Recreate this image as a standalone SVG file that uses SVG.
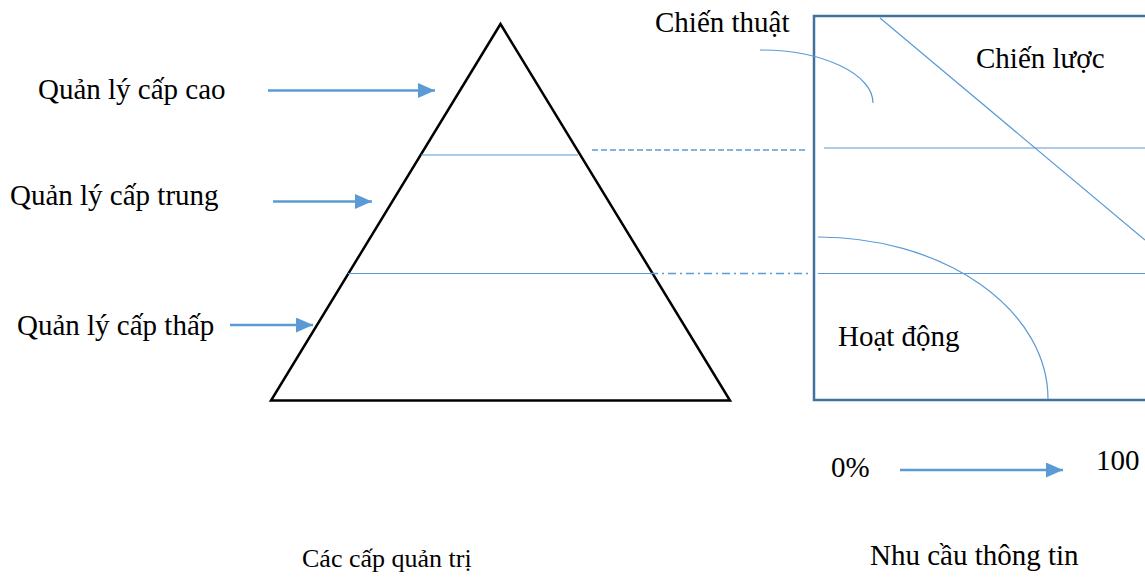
<svg xmlns="http://www.w3.org/2000/svg" width="1145" height="579" viewBox="0 0 1145 579">
<style>
  text { font-family: "Liberation Serif", "Times New Roman", serif; font-size: 29px; fill: #000; }
  .cap { font-size: 26px; }
  .arrow { stroke: #5b9bd5; stroke-width: 2.5; fill: none; }
  .thin { stroke: #5b9bd5; stroke-width: 1.2; fill: none; }
  .box { stroke: #41719c; stroke-width: 2.5; fill: none; }
</style>
<defs>
  <marker id="ah" markerUnits="userSpaceOnUse" markerWidth="17" markerHeight="15" refX="17" refY="7.5" orient="auto">
    <path d="M0,0 L17,7.5 L0,15 Z" fill="#5b9bd5"/>
  </marker>
</defs>
<rect width="1145" height="579" fill="#fff"/>

<g id="pyramid">
  <polygon points="500.5,24 271,400.5 730,400.5" fill="none" stroke="#000" stroke-width="2.5" stroke-linejoin="miter"/>
  <line class="thin" x1="421" y1="155" x2="578" y2="155"/>
  <line class="thin" x1="348" y1="273.5" x2="650" y2="273.5"/>
</g>

<g id="labels-left">
  <text x="38" y="99">Quản lý cấp cao</text>
  <text x="10" y="205">Quản lý cấp trung</text>
  <text x="17" y="335">Quản lý cấp thấp</text>
  <text class="cap" x="302" y="567">Các cấp quản trị</text>
</g>

<g id="info-box">
  <rect class="box" x="814" y="16" width="345" height="384"/>
  <line class="thin" x1="824" y1="148" x2="1145" y2="148"/>
  <line class="thin" x1="818" y1="273.5" x2="1145" y2="273.5"/>
  <line class="thin" x1="880" y1="18" x2="1145" y2="240"/>
  <path class="thin" d="M818,237 A230,162 0 0 1 1048,399"/>
  <path class="thin" d="M760,50 A113,53 0 0 1 873,103"/>
  <text x="655" y="32">Chiến thuật</text>
  <text x="976" y="68">Chiến lược</text>
  <text x="838" y="346">Hoạt động</text>
  <text x="831" y="477">0%</text>
  <text x="1096" y="470">100</text>
  <text x="870" y="565">Nhu cầu thông tin</text>
</g>

<g id="connectors">
  <line class="arrow" x1="268" y1="90.5" x2="435" y2="90.5" marker-end="url(#ah)"/>
  <line class="arrow" x1="273" y1="201.5" x2="372" y2="201.5" marker-end="url(#ah)"/>
  <line class="arrow" x1="230" y1="325" x2="313" y2="325" marker-end="url(#ah)"/>
  <line class="arrow" x1="900" y1="470" x2="1063" y2="470" marker-end="url(#ah)"/>
  <line x1="592" y1="150" x2="805" y2="150" stroke="#5b9bd5" stroke-width="1.5" stroke-dasharray="6 3"/>
  <line x1="650" y1="273.5" x2="812" y2="273.5" stroke="#5b9bd5" stroke-width="1.5" stroke-dasharray="8 4 2 4"/>
</g>
</svg>
